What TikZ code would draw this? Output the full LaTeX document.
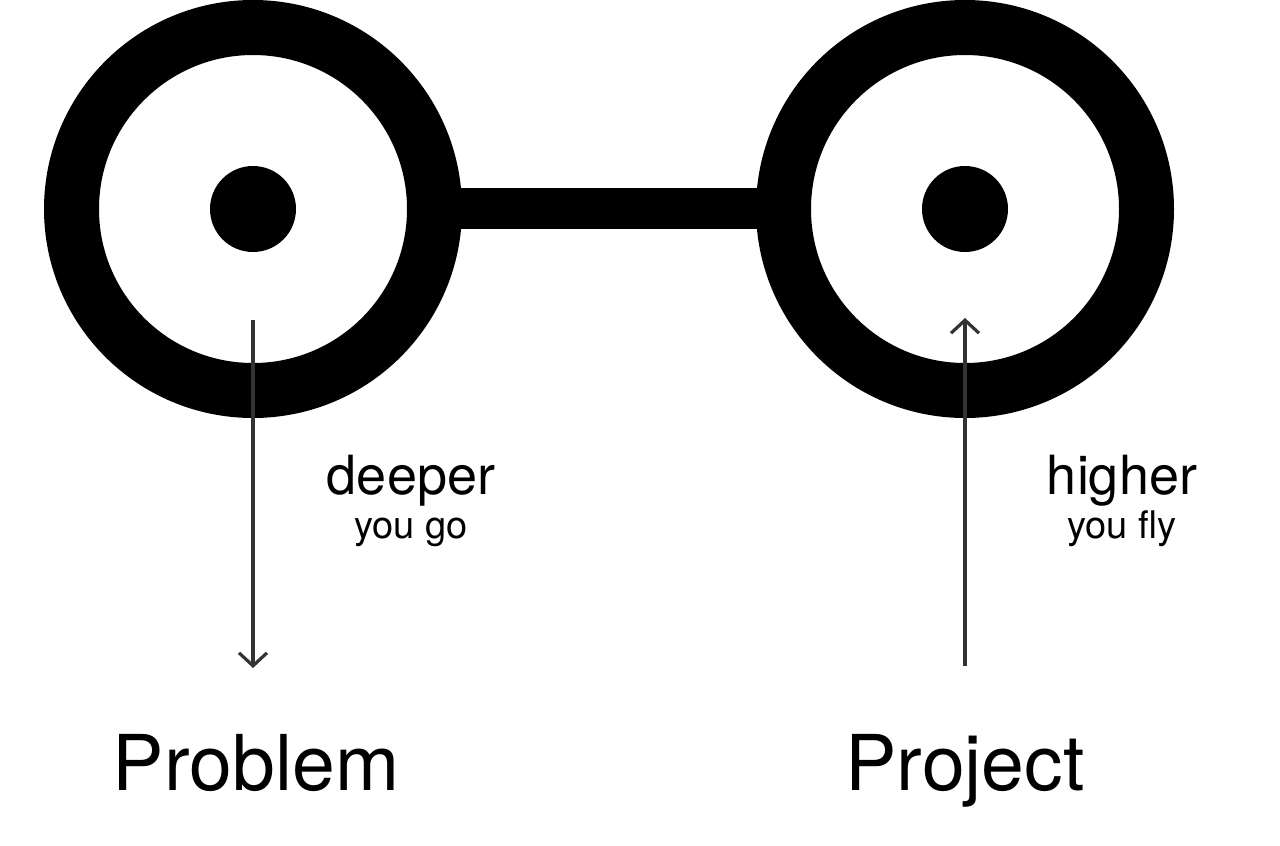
\documentclass[tikz,border=0pt]{standalone}
\usepackage{fontspec}
\setmainfont{TeX Gyre Heros}
\usetikzlibrary{arrows.meta}
\definecolor{arrowgray}{HTML}{333333}
\tikzset{
  ring/.style={circle, draw=black, line width=55pt, minimum size=363pt, inner sep=0pt},
  hub/.style={circle, fill=black, minimum size=86pt, inner sep=0pt},
  bar/.style={line width=41pt, black},
  flow/.style={draw=arrowgray, line width=3.2pt, -{Straight Barb[length=13pt,width=28pt,line width=3.2pt]}},
  bigtxt/.style={anchor=base, inner sep=0pt, font=\fontsize{77}{80}\selectfont},
  midtxt/.style={anchor=base, inner sep=0pt, font=\fontsize{54}{58}\selectfont},
  smalltxt/.style={anchor=base, inner sep=0pt, font=\fontsize{38}{40}\selectfont}
}
\begin{document}
\begin{tikzpicture}[x=1pt,y=-1pt]
\useasboundingbox (0,0) rectangle (1280,846);
% connecting bar (drawn first, under rings)
\coordinate (barL) at (440,208.5);
\coordinate (barR) at (780,208.5);
\draw[bar] (barL) -- (barR);
% rings
\node[ring] (ringL) at (253,209) {};
\node[ring] (ringR) at (965,209) {};
\node[hub] (hubL) at (253,209) {};
\node[hub] (hubR) at (965,209) {};
% arrows
\coordinate (aLs) at (253,320);
\coordinate (aLe) at (253,668);
\coordinate (aRs) at (965,666);
\coordinate (aRe) at (965,318);
\draw[flow] (aLs) -- (aLe);
\draw[flow] (aRs) -- (aRe);
% labels
\node[midtxt] (deeper) at (411,494) {deeper};
\node[smalltxt] (yougo) at (411,538) {you go};
\node[midtxt] (higher) at (1122,494) {higher};
\node[smalltxt] (youfly) at (1122,538) {you fly};
\node[bigtxt] (problem) at (256,790) {Problem};
\node[bigtxt] (project) at (965,790) {Project};
\end{tikzpicture}
\end{document}
